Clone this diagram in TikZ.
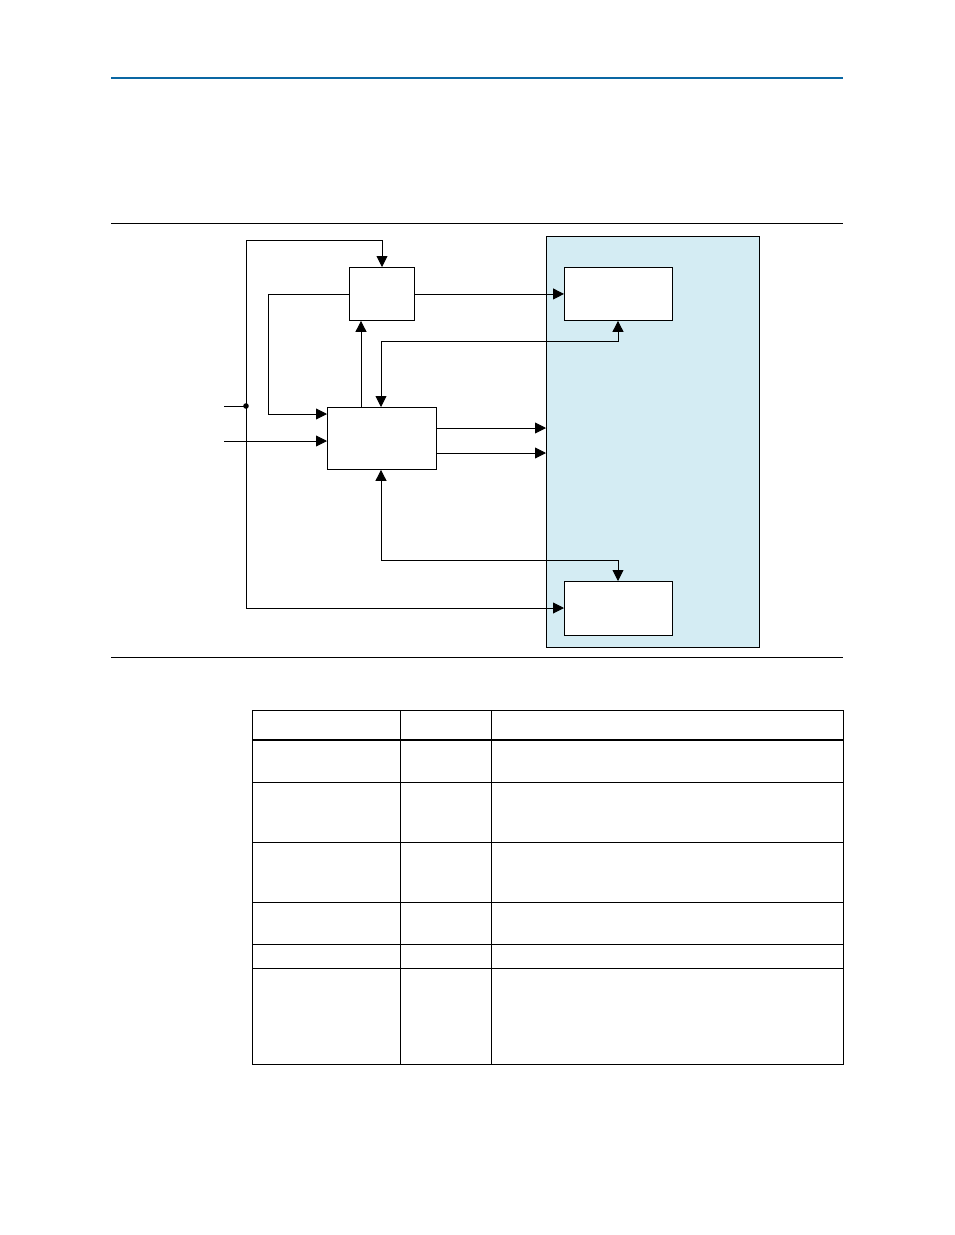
\documentclass[tikz,border=0pt]{standalone}
\usepackage{xcolor}
\definecolor{pageBlue}{HTML}{0A67A3}
\definecolor{panelBlue}{HTML}{D4ECF3}
\usepackage{tikz}
\usetikzlibrary{arrows.meta,calc}
\tikzset{
  blk/.style={draw, fill=white, line width=0.9pt, inner sep=0pt, anchor=north west},
  wire/.style={line width=0.9pt},
}

\begin{document}
\begin{tikzpicture}[x=1pt, y=-1pt, >={Triangle[length=11pt,width=11pt]}, line join=miter]
  \useasboundingbox (0,0) rectangle (954,1235);
  % page rules
  \draw[pageBlue, line width=2pt] (111,78) -- (843,78);
  \draw[line width=1pt] (111,223) -- (843,223);
  \draw[line width=1pt] (111,657) -- (843,657);
  % panel
  \node[draw, fill=panelBlue, line width=0.9pt, inner sep=0pt, anchor=north west,
        minimum width=213pt, minimum height=411pt] (panel) at (546,236) {};
  % blocks
  \node[blk, minimum width=65pt, minimum height=53pt] (ctl) at (349,267) {};
  \node[blk, minimum width=109pt, minimum height=62pt] (core) at (327,407) {};
  \node[blk, minimum width=108pt, minimum height=53pt] (upper) at (564,267) {};
  \node[blk, minimum width=108pt, minimum height=54pt] (lower) at (564,581) {};
  % free ends
  \coordinate (inA) at (224,406);
  \coordinate (inB) at (224,441);
  \coordinate (tap) at (246,406);
  \fill (tap) circle (2.8pt);
  % inputs
  \draw[wire] (inA) -- (tap);
  \draw[wire, ->] (inB) -- (inB -| core.west);
  \draw[wire, ->] (tap) -- (246,240) -- (382,240) -- (382,0 |- ctl.north);
  \draw[wire, ->] (tap) -- (246,608) -- (246,608 -| lower.west);
  % loop back from control block
  \draw[wire, ->] (ctl.west) -- (ctl.west -| 268,0) -- (268,414) -- (268,414 -| core.west);
  \draw[wire, ->] (361,0 |- core.north) -- (361,0 |- ctl.south);
  \draw[wire, ->] (ctl.east) -- (ctl.east -| upper.west);
  % links to the panel
  \draw[wire, <->] (618,0 |- upper.south) -- (618,341) -- (381,341) -- (381,0 |- core.north);
  \draw[wire, ->] (core.east |- 0,428) -- (546,428);
  \draw[wire, ->] (core.east |- 0,453) -- (546,453);
  \draw[wire, <->] (381,0 |- core.south) -- (381,560) -- (618,560) -- (618,0 |- lower.north);
  % table
  \draw[line width=1pt] (252,710) rectangle (843,1064);
  \foreach \xc in {400,491} \draw[line width=1pt] (\xc,710) -- (\xc,1064);
  \draw[line width=2pt] (252,740) -- (843,740);
  \foreach \yr in {782,842,902,944,968} \draw[line width=1pt] (252,\yr) -- (843,\yr);
\end{tikzpicture}
\end{document}
